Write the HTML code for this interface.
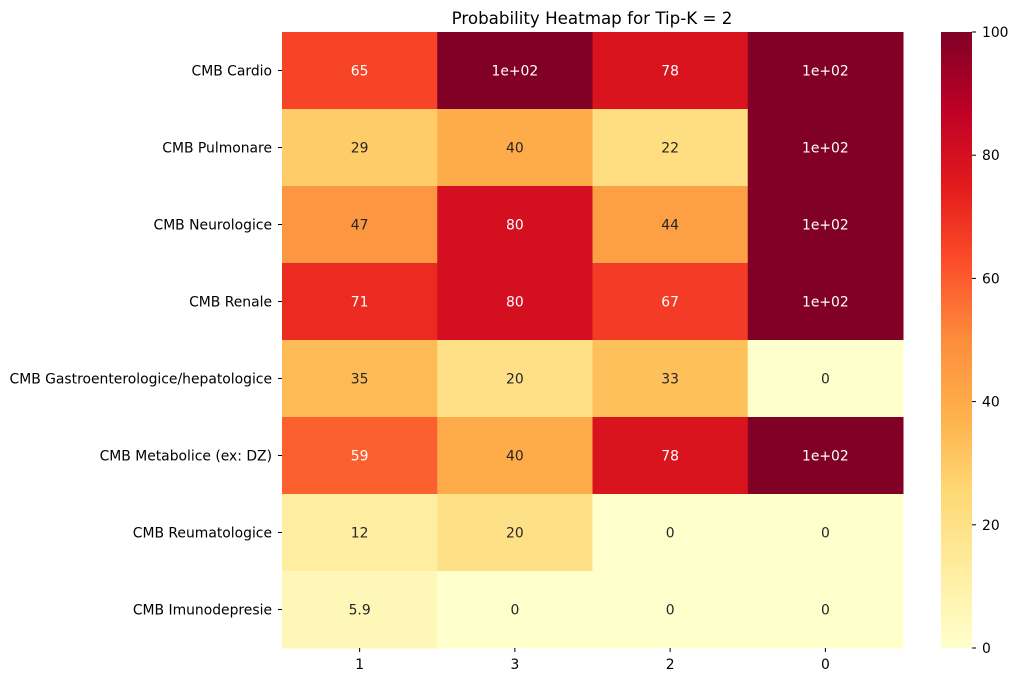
<!DOCTYPE html>
<html><head><meta charset="utf-8"><style>
body{margin:0;background:#fff;font-family:"Liberation Sans","DejaVu Sans",sans-serif;}
svg text{font-family:"DejaVu Sans","Liberation Sans",sans-serif;}
</style></head><body>
<svg id="chart" width="1018" height="682" xmlns="http://www.w3.org/2000/svg">
<text x="592" y="24" text-anchor="middle" font-size="16.7" fill="#000">Probability Heatmap for Tip-K = 2</text>
<g id="cells"></g>
<g id="ylabels"></g>
<g id="xlabels"></g>
<defs><linearGradient id="cbgrad" x1="0" y1="1" x2="0" y2="0"></linearGradient></defs>
<rect x="941" y="32" width="31" height="616" fill="url(#cbgrad)"/>
<g id="cbticks"></g>
</svg>
<script>
const rowLabels=["CMB Cardio","CMB Pulmonare","CMB Neurologice","CMB Renale","CMB Gastroenterologice/hepatologice","CMB Metabolice (ex: DZ) ","CMB Reumatologice","CMB Imunodepresie"];
const colLabels=["1","3","2","0"];
const values=[
[65,100,78,100],
[29,40,22,100],
[47,80,44,100],
[71,80,67,100],
[35,20,33,0],
[59,40,78,100],
[12,20,0,0],
[5.9,0,0,0]];
const cbTicks=[0,20,40,60,80,100];
const vmin=0,vmax=100;
const stops=["#ffffcc","#ffeda0","#fed976","#feb24c","#fd8d3c","#fc4e2a","#e31a1c","#bd0026","#800026"];
const X0=282,X1=903,Y0=32,Y1=648;
const cw=(X1-X0)/colLabels.length, rh=(Y1-Y0)/rowLabels.length;
const NS="http://www.w3.org/2000/svg";
const FS=13.9;
function hex(h){return [1,3,5].map(i=>parseInt(h.substr(i,2),16));}
function cmap(v){let t=(v-vmin)/(vmax-vmin);t=Math.max(0,Math.min(1,t))*(stops.length-1);
 let i=Math.min(stops.length-2,Math.floor(t)),f=t-i;const a=hex(stops[i]),b=hex(stops[i+1]);
 return a.map((c,k)=>Math.round(c+(b[k]-c)*f));}
function fmt(v){if(v===0)return "0";const e=Math.floor(Math.log10(Math.abs(v)));
 if(e>=2){const m=v/Math.pow(10,e);return (Math.round(m*10)/10).toString().replace(/\.0$/,'')+"e+"+String(e).padStart(2,"0");}
 return String(parseFloat(v.toPrecision(2)));}
function lum(c){const l=c.map(x=>{x/=255;return x<=0.03928?x/12.92:Math.pow((x+0.055)/1.055,2.4);});return 0.2126*l[0]+0.7152*l[1]+0.0722*l[2];}
const cells=document.getElementById('cells');
values.forEach((row,r)=>row.forEach((v,c)=>{
 const col=cmap(v);
 const rect=document.createElementNS(NS,'rect');
 rect.setAttribute('x',X0+c*cw);rect.setAttribute('y',Y0+r*rh);
 rect.setAttribute('width',cw+0.5);rect.setAttribute('height',rh+0.5);
 rect.setAttribute('fill','rgb('+col.join(',')+')');
 
 
 cells.appendChild(rect);
 const t=document.createElementNS(NS,'text');
 t.setAttribute('x',X0+(c+0.5)*cw);t.setAttribute('y',Y0+(r+0.5)*rh+5);
 t.setAttribute('text-anchor','middle');t.setAttribute('font-size',FS);
 t.setAttribute('fill',lum(col)>0.408?'#262626':'#ffffff');
 t.textContent=fmt(v);
 
 
 cells.appendChild(t);
}));
const yl=document.getElementById('ylabels');
rowLabels.forEach((l,r)=>{
 const t=document.createElementNS(NS,'text');
 t.setAttribute('x',X0-10);t.setAttribute('y',Y0+(r+0.5)*rh+5);
 t.setAttribute('text-anchor','end');t.setAttribute('font-size',FS);
 t.setAttribute('xml:space','preserve');
 t.textContent=l;
 
 
 yl.appendChild(t);
 const tk=document.createElementNS(NS,'line');
 tk.setAttribute('x1',X0-4);tk.setAttribute('x2',X0);tk.setAttribute('y1',Y0+(r+0.5)*rh);tk.setAttribute('y2',Y0+(r+0.5)*rh);tk.setAttribute('stroke','#000');
 
 
 yl.appendChild(tk);
});
const xl=document.getElementById('xlabels');
colLabels.forEach((l,c)=>{
 const t=document.createElementNS(NS,'text');
 t.setAttribute('x',X0+(c+0.5)*cw);t.setAttribute('y',Y1+21);
 t.setAttribute('text-anchor','middle');t.setAttribute('font-size',FS);
 t.textContent=l;
 
 
 xl.appendChild(t);
 const tk=document.createElementNS(NS,'line');
 tk.setAttribute('x1',X0+(c+0.5)*cw);tk.setAttribute('x2',X0+(c+0.5)*cw);tk.setAttribute('y1',Y1);tk.setAttribute('y2',Y1+4);tk.setAttribute('stroke','#000');
 
 
 xl.appendChild(tk);
});
const g=document.getElementById('cbgrad');
stops.forEach((s,i)=>{const st=document.createElementNS(NS,'stop');st.setAttribute('offset',i/(stops.length-1));st.setAttribute('stop-color',s);g.appendChild(st);});
const cb=document.getElementById('cbticks');
cbTicks.forEach(v=>{
 const y=Y1-(v-vmin)/(vmax-vmin)*(Y1-Y0);
 const tk=document.createElementNS(NS,'line');
 tk.setAttribute('x1',972);tk.setAttribute('x2',976);tk.setAttribute('y1',y);tk.setAttribute('y2',y);tk.setAttribute('stroke','#000');
 
 
 cb.appendChild(tk);
 const t=document.createElementNS(NS,'text');
 t.setAttribute('x',982);t.setAttribute('y',y+5);t.setAttribute('font-size',FS);
 t.textContent=v;
 
 
 cb.appendChild(t);
});
</script>
</body></html>
